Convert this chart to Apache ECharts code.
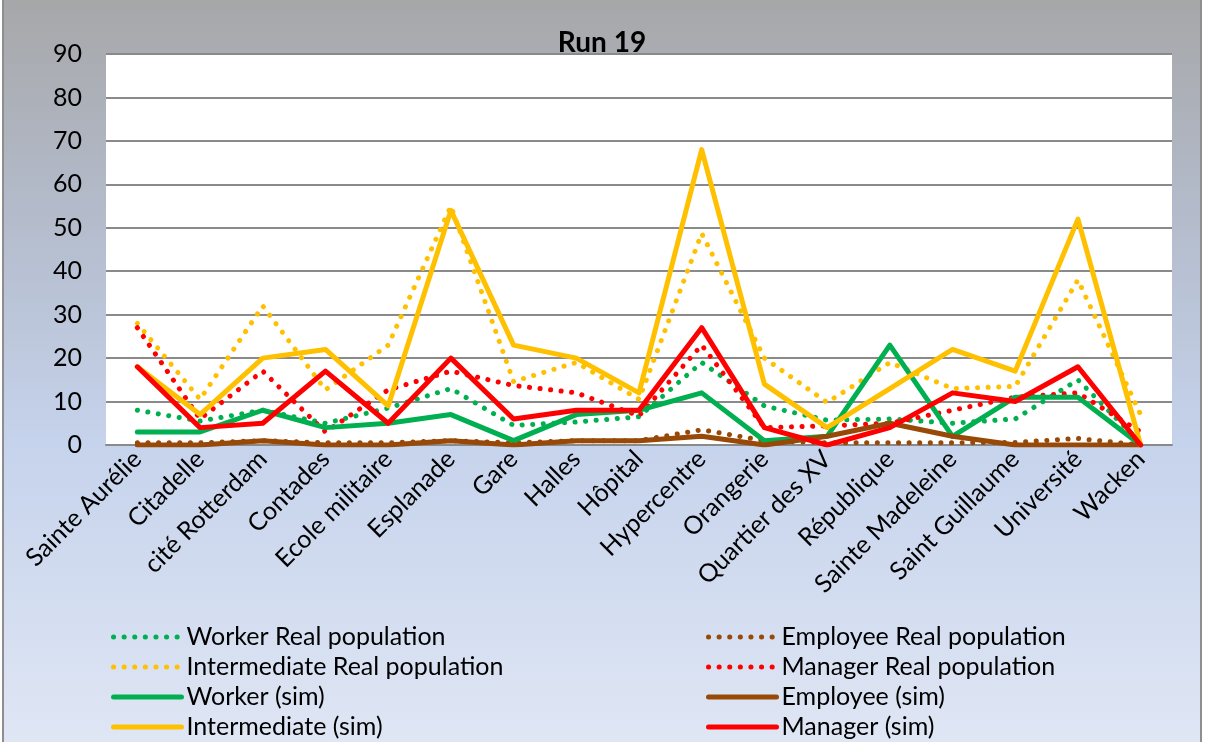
<!DOCTYPE html>
<html>
<head>
<meta charset="utf-8">
<script src="https://cdn.jsdelivr.net/npm/echarts@6/dist/echarts.min.js"></script>
<style>
  html, body { margin: 0; padding: 0; background: #ffffff; }
  #chart { position: absolute; left: 2px; top: 0; width: 1200px; height: 742px;
           box-sizing: border-box; border-left: 2px solid #8e8e8e; border-right: 2px solid #8e8e8e; }
</style>
</head>
<body>
<div id="chart"></div>
<script>
const categories = ["Sainte Aurélie", "Citadelle", "cité Rotterdam", "Contades", "Ecole militaire", "Esplanade", "Gare", "Halles", "Hôpital", "Hypercentre", "Orangerie", "Quartier des XV", "République", "Sainte Madeleine", "Saint Guillaume", "Université", "Wacken"];
const yTicks = [0, 10, 20, 30, 40, 50, 60, 70, 80, 90];

const workerReal       = [8, 5.5, 8, 5, 8.5, 13, 4.5, 5.3, 6.5, 19, 9, 5.7, 6, 5, 6, 15, 0.5];
const employeeReal     = [0.5, 0.5, 1, 0.5, 0.5, 1, 0.5, 1, 1, 3.5, 1, 0.5, 0.5, 0.5, 0.6, 1.5, 0];
const intermediateReal = [28, 10.5, 32, 12.7, 23, 55, 14.6, 19, 10.5, 48.7, 20, 9.8, 19, 13, 13.5, 38, 7];
const managerReal      = [27, 6, 17, 3, 12.7, 17, 13.7, 12, 6.7, 23, 4, 4.4, 5, 8, 11, 12, 3];
const workerSim        = [3, 3, 8, 4, 5, 7, 1, 7, 8, 12, 1, 2, 23, 2, 11, 11, 0];
const employeeSim      = [0, 0, 1, 0, 0, 1, 0, 1, 1, 2, 0, 2, 5, 2, 0, 0, 0];
const intermediateSim  = [18, 7, 20, 22, 9, 54, 23, 20, 12, 68, 14, 4, 13, 22, 17, 52, 0];
const managerSim       = [18, 4, 5, 17, 5, 20, 6, 8, 8, 27, 4, 0, 4, 12, 10, 18, 0];

const GREEN = '#00B050', YELLOW = '#FFC000', RED = '#FF0000', BROWN = '#984807';
const FONT = 'Lato';
const LW = 5;

function dotted(name, data, color) {
  return { name, type: 'line', data, symbol: 'none', z: 2,
    lineStyle: { color, width: LW, type: [0.1, 10.5], cap: 'round' },
    itemStyle: { color } };
}
function solid(name, data, color) {
  return { name, type: 'line', data, symbol: 'none', z: 3,
    lineStyle: { color, width: LW, type: 'solid', cap: 'round', join: 'round' },
    itemStyle: { color } };
}

const chart = echarts.init(document.getElementById('chart'));
const legendText = { fontFamily: FONT, fontSize: 25, color: '#000', lineHeight: 30 };
const legendCommon = { orient: 'vertical', top: 622, height: 120, padding: 0,
  itemWidth: 68, itemHeight: 2, itemGap: 0,
  itemStyle: { opacity: 0, color: 'transparent', borderWidth: 0 },
  lineStyle: { width: LW }, textStyle: legendText };
chart.setOption({
  backgroundColor: { type: 'linear', x: 0, y: 0, x2: 0, y2: 1,
    colorStops: [ { offset: 0, color: '#a6a7a9' }, { offset: 0.3, color: '#b4bccc' },
                  { offset: 0.6, color: '#c6d3ec' }, { offset: 1, color: '#dfe6f4' } ] },
  animation: false,
  title: { text: 'Run 19', left: 'center', top: 24,
    textStyle: { fontFamily: FONT, fontSize: 28, fontWeight: 'bold', color: '#000' } },
  grid: { left: 102, right: 28, top: 54, bottom: 297, show: true, backgroundColor: '#ffffff', borderWidth: 0 },
  legend: [
    Object.assign({}, legendCommon, { left: 107,
      data: ['Worker Real population', 'Intermediate Real population', 'Worker (sim)', 'Intermediate (sim)'] }),
    Object.assign({}, legendCommon, { left: 702,
      data: ['Employee Real population', 'Manager Real population', 'Employee (sim)', 'Manager (sim)'] })
  ],
  xAxis: { type: 'category', data: categories, boundaryGap: true,
    axisLine: { lineStyle: { color: '#8a8a8a', width: 2 } }, axisTick: { show: false },
    axisLabel: { rotate: 45, interval: 0, margin: 10, fontFamily: FONT, fontSize: 25, color: '#000' } },
  yAxis: { type: 'value', min: yTicks[0], max: yTicks[yTicks.length - 1], interval: yTicks[1] - yTicks[0],
    axisLine: { show: false }, axisTick: { show: false },
    splitLine: { lineStyle: { color: '#8a8a8a', width: 2 } },
    axisLabel: { margin: 24, fontFamily: FONT, fontSize: 25, color: '#000' } },
  series: [
    dotted('Worker Real population', workerReal, GREEN),
    dotted('Employee Real population', employeeReal, BROWN),
    dotted('Intermediate Real population', intermediateReal, YELLOW),
    dotted('Manager Real population', managerReal, RED),
    solid('Worker (sim)', workerSim, GREEN),
    solid('Employee (sim)', employeeSim, BROWN),
    solid('Intermediate (sim)', intermediateSim, YELLOW),
    solid('Manager (sim)', managerSim, RED)
  ]
});
</script>
</body>
</html>
